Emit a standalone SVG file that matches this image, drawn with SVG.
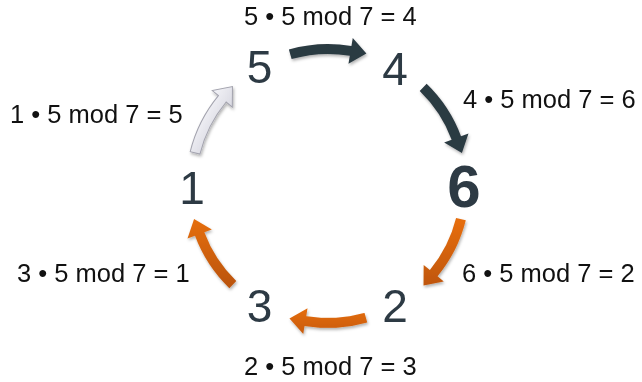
<svg xmlns="http://www.w3.org/2000/svg" xmlns:xlink="http://www.w3.org/1999/xlink" width="642" height="382" viewBox="0 0 642 382">
<style>
.num{font-family:"Liberation Sans",Arial,sans-serif;font-size:46px;fill:#2d3a44;text-anchor:middle}
.big{font-size:60px;font-weight:bold}
.lbl{font-family:"Liberation Sans",Arial,sans-serif;font-size:25.5px;fill:#111}
.dark{fill:#2c3a42}
.light{fill:url(#gLight);stroke:#a3a3ae;stroke-width:1}
</style>
<defs>
<path id="arr" d="M136.50,-39.14 A142,142 0 0 1 140.05,23.44 L147.94,24.76 L132.48,38.39 L122.30,20.47 L130.19,21.79 A132,132 0 0 0 126.89,-36.38 Z"/>
<linearGradient id="gOr30" gradientUnits="userSpaceOnUse" x1="0" y1="36" x2="0" y2="110" gradientTransform="rotate(-30)">
<stop offset="0" stop-color="#e56d0e"/><stop offset="1" stop-color="#b9520a"/>
</linearGradient>
<linearGradient id="gOr90" gradientUnits="userSpaceOnUse" x1="0" y1="122" x2="0" y2="150" gradientTransform="rotate(-90)">
<stop offset="0" stop-color="#e56d0e"/><stop offset="1" stop-color="#c65a0b"/>
</linearGradient>
<linearGradient id="gOr150" gradientUnits="userSpaceOnUse" x1="0" y1="29" x2="0" y2="100" gradientTransform="rotate(-150)">
<stop offset="0" stop-color="#e8700f"/><stop offset="1" stop-color="#bb540a"/>
</linearGradient>
<linearGradient id="gLight" x1="0" y1="0" x2="1" y2="0">
<stop offset="0" stop-color="#d9d9e2"/><stop offset="1" stop-color="#f4f4f8"/>
</linearGradient>
<filter id="sh" x="-20%" y="-20%" width="140%" height="140%">
<feDropShadow dx="1" dy="2" stdDeviation="1.5" flood-color="#000" flood-opacity="0.3"/>
</filter>
</defs>
<g id="connectors" filter="url(#sh)">
<use href="#arr" xlink:href="#arr" class="dark" transform="translate(328,186) rotate(-90)"/>
<use href="#arr" xlink:href="#arr" class="dark" transform="translate(328,186) rotate(-30)"/>
<use href="#arr" xlink:href="#arr" fill="url(#gOr30)" transform="translate(328,186) rotate(30)"/>
<use href="#arr" xlink:href="#arr" fill="url(#gOr90)" transform="translate(328,186) rotate(90)"/>
<use href="#arr" xlink:href="#arr" fill="url(#gOr150)" transform="translate(328,186) rotate(150)"/>
<use href="#arr" xlink:href="#arr" class="light" transform="translate(328,186) rotate(210)"/>
</g>
<g id="n5"><text class="num" x="259.5" y="83">5</text></g>
<g id="n4"><text class="num" x="395" y="85">4</text></g>
<g id="n6"><text class="num big" x="464" y="207">6</text></g>
<g id="n2"><text class="num" x="395" y="322">2</text></g>
<g id="n3"><text class="num" x="259.5" y="322">3</text></g>
<g id="n1"><text class="num" x="192" y="204">1</text></g>
<g id="labels">
<text class="lbl" x="244" y="25">5 • 5 mod 7 = 4</text>
<text class="lbl" x="463" y="108">4 • 5 mod 7 = 6</text>
<text class="lbl" x="10" y="123">1 • 5 mod 7 = 5</text>
<text class="lbl" x="17" y="282">3 • 5 mod 7 = 1</text>
<text class="lbl" x="462" y="282">6 • 5 mod 7 = 2</text>
<text class="lbl" x="244" y="375">2 • 5 mod 7 = 3</text>
</g>
</svg>
